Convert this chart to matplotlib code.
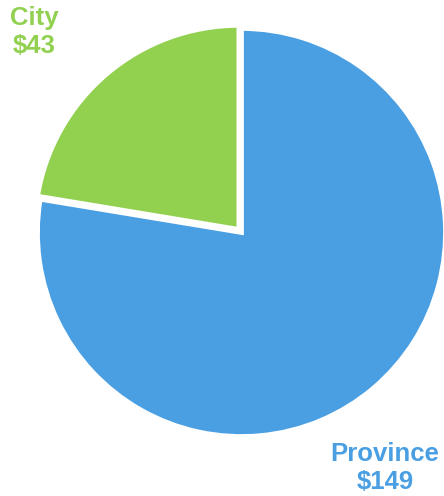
import matplotlib.pyplot as plt

labels = ['Province', 'City']
values = [149, 43]
colors = ['#4a9fe3', '#92d050']

W, H = 444, 496
fig = plt.figure(figsize=(W / 100, H / 100), dpi=100)

# pie centre (241.5, 232.5) px from top-left, radius 204 px
cx, cy, r = 241.5, 232.5, 204
ax = fig.add_axes([(cx - r) / W, (H - cy - r) / H, 2 * r / W, 2 * r / H])

ax.pie(values, colors=colors, startangle=90, counterclock=False,
       explode=[0, 0.02], radius=1,
       wedgeprops=dict(edgecolor='white', linewidth=3.4))
ax.set_xlim(-1, 1)
ax.set_ylim(-1, 1)
ax.set_aspect('equal')
ax.axis('off')

# labels
font = dict(family=['Liberation Sans', 'DejaVu Sans'], fontsize=18.5,
            fontweight='bold', ha='center', va='center', linespacing=1.25)
fig.text(34 / W, 1 - 32 / H, f'{labels[1]}\n${values[1]}', color=colors[1], **font)
fig.text(385 / W, 1 - 468 / H, f'{labels[0]}\n${values[0]}', color=colors[0], **font)

plt.savefig('out.png', dpi=100)
